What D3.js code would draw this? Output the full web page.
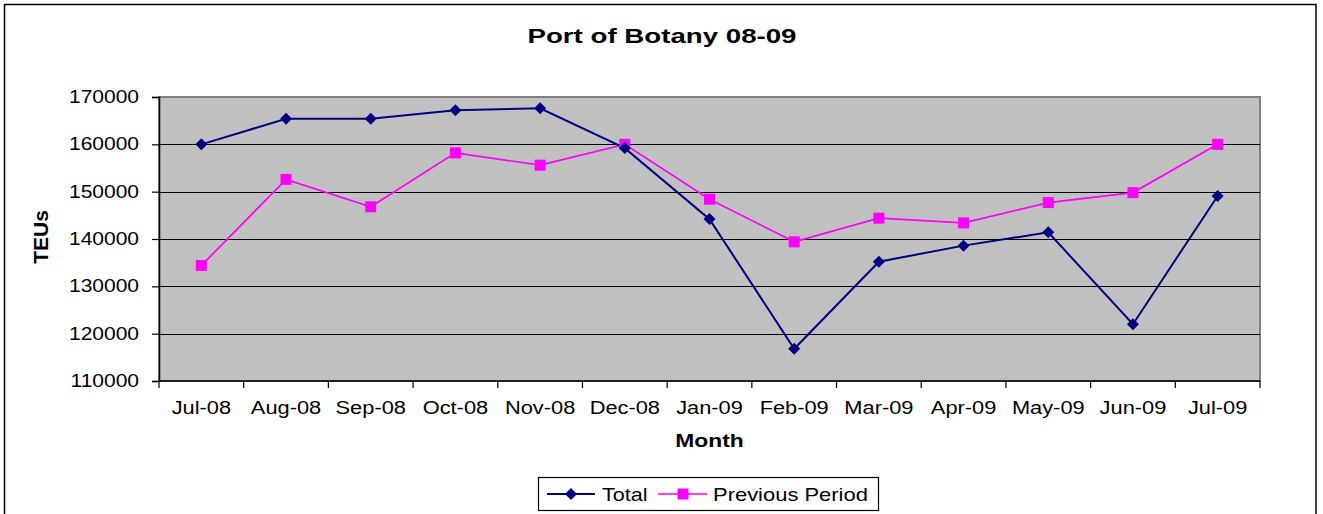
<!DOCTYPE html>
<html><head><meta charset="utf-8">
<script src="https://cdn.jsdelivr.net/npm/d3@7"></script>
<style>
html,body{margin:0;padding:0;background:#fff;}
text{font-family:"Liberation Sans",Arial,sans-serif;fill:#000;}
</style></head>
<body><svg id="chart" width="1323" height="514"></svg>
<script>
const months = ["Jul-08","Aug-08","Sep-08","Oct-08","Nov-08","Dec-08","Jan-09","Feb-09","Mar-09","Apr-09","May-09","Jun-09","Jul-09"];
const total = [160000,165400,165400,167200,167600,159200,144200,116800,135200,138600,141400,122000,149100];
const previous = [134400,152600,146800,158200,155600,160000,148400,139400,144400,143400,147700,149800,160000];
const yTicks = [110000,120000,130000,140000,150000,160000,170000];
const titleText = "Port of Botany 08-09";
const xTitle = "Month", yTitle = "TEUs";
const seriesNames = ["Total","Previous Period"];

const svg = d3.select("#chart");
const L=159, R=1260, T=97, B=381;
const x = d3.scaleBand().domain(months).range([L,R]);
const y = d3.scaleLinear().domain([110000,170000]).range([B,T]);

// outer border
svg.append("rect").attr("x",4.5).attr("y",4.5).attr("width",1311.5).attr("height",530)
  .attr("fill","#fff").attr("stroke","#000").attr("stroke-width",1.5);

// plot area
svg.append("rect").attr("x",L).attr("y",T).attr("width",R-L).attr("height",B-T)
  .attr("fill","#c0c0c0").attr("stroke","#808080").attr("stroke-width",2);

// gridlines
svg.append("g").selectAll("line").data(yTicks.slice(1,-1)).join("line")
  .attr("x1",L).attr("x2",R).attr("y1",d=>Math.round(y(d))+0.5).attr("y2",d=>Math.round(y(d))+0.5)
  .attr("stroke","#000").attr("stroke-width",1.2);

// y axis
const yAxis = svg.append("g").attr("transform",`translate(${L},0)`)
  .call(d3.axisLeft(y).tickValues(yTicks).tickSize(7).tickPadding(10).tickFormat(d3.format("d")));
yAxis.select(".domain").attr("stroke","#000").attr("stroke-width",1.5);
yAxis.selectAll(".tick line").attr("stroke","#000").attr("stroke-width",1.2);
yAxis.selectAll(".tick text").attr("font-size",17.5).attr("font-family","Liberation Sans, Arial, sans-serif")
  .each(function(){
    const t=d3.select(this); const xx=+t.attr("x");
    t.attr("x",null).attr("transform",`translate(${xx-3},0) scale(1.2,1)`);
  });

// x axis
const xAxis = svg.append("g").attr("transform",`translate(0,${B})`)
  .call(d3.axisBottom(x).tickSize(0).tickPadding(0));
xAxis.select(".domain").remove();
svg.append("line").attr("x1",L).attr("x2",R).attr("y1",B).attr("y2",B).attr("stroke","#000").attr("stroke-width",1.5);
xAxis.selectAll(".tick text").attr("font-size",18.5).attr("font-family","Liberation Sans, Arial, sans-serif")
  .attr("dy",null).attr("y",null)
  .attr("transform","translate(0,33) scale(1.18,1)");
// boundary ticks
const bounds = months.map(m=>x(m)).concat([R]);
svg.append("g").selectAll("line").data(bounds).join("line")
  .attr("x1",d=>d).attr("x2",d=>d).attr("y1",B).attr("y2",B+7)
  .attr("stroke","#000").attr("stroke-width",1.2);

const cx = m => x(m)+x.bandwidth()/2;

// lines
const line = d3.line().x((d,i)=>cx(months[i])).y(d=>y(d));
svg.append("path").datum(previous).attr("d",line).attr("fill","none").attr("stroke","#ff00ff").attr("stroke-width",1.7);
svg.append("path").datum(total).attr("d",line).attr("fill","none").attr("stroke","#000080").attr("stroke-width",2);

const diamondPath = "M0,-6L6,0L0,6L-6,0Z";
svg.append("g").selectAll("rect").data(previous).join("rect")
  .attr("x",(d,i)=>cx(months[i])-5.5).attr("y",d=>y(d)-5.5).attr("width",11).attr("height",11).attr("fill","#ff00ff");
svg.append("g").selectAll("path").data(total).join("path")
  .attr("d",diamondPath).attr("transform",(d,i)=>`translate(${cx(months[i])},${y(d)})`).attr("fill","#000080");

// title
svg.append("text").attr("transform","translate(662,43) scale(1.35,1)").attr("text-anchor","middle")
  .attr("font-size",20.5).attr("font-weight","bold").text(titleText);
// x title
svg.append("text").attr("transform",`translate(${(L+R)/2},447) scale(1.2,1)`).attr("text-anchor","middle")
  .attr("font-size",19).attr("font-weight","bold").text(xTitle);
// y title
svg.append("text").attr("transform",`translate(48,${(T+B)/2-2}) rotate(-90)`).attr("text-anchor","middle")
  .attr("font-size",21).attr("font-weight","bold").text(yTitle);

// legend
const lg = svg.append("g");
lg.append("rect").attr("x",538.5).attr("y",477.5).attr("width",340).attr("height",33)
  .attr("fill","#fff").attr("stroke","#000").attr("stroke-width",1.2);
const ly = 494;
lg.append("line").attr("x1",547).attr("x2",595).attr("y1",ly).attr("y2",ly).attr("stroke","#000080").attr("stroke-width",2);
lg.append("path").attr("d",diamondPath).attr("transform",`translate(571,${ly})`).attr("fill","#000080");
lg.append("text").attr("transform",`translate(602,${ly+6.5}) scale(1.2,1)`).attr("font-size",18).text(seriesNames[0]);
lg.append("line").attr("x1",658).attr("x2",707).attr("y1",ly).attr("y2",ly).attr("stroke","#ff00ff").attr("stroke-width",1.7);
lg.append("rect").attr("x",677.5).attr("y",ly-5.5).attr("width",11).attr("height",11).attr("fill","#ff00ff");
lg.append("text").attr("transform",`translate(713,${ly+6.5}) scale(1.22,1)`).attr("font-size",18).text(seriesNames[1]);
</script></body></html>
